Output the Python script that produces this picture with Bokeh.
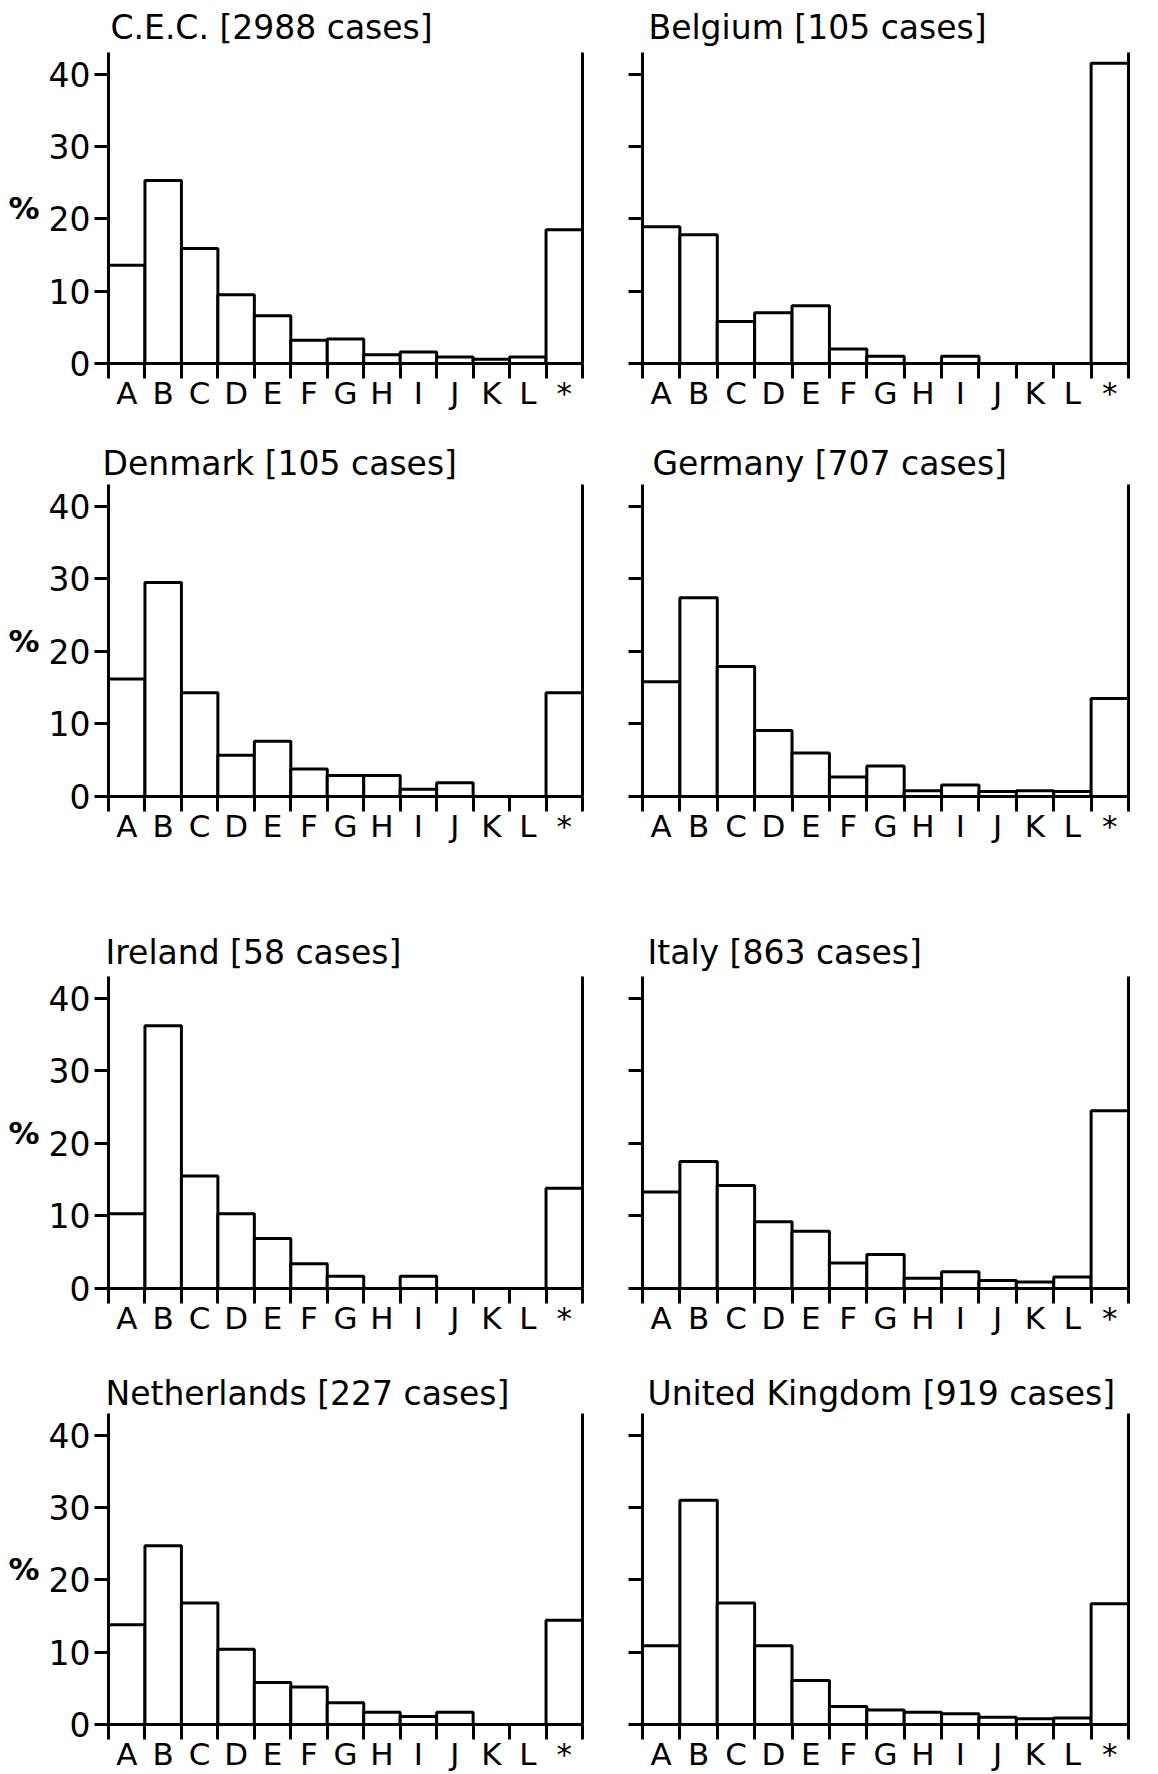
from bokeh.plotting import figure
from bokeh.models import Range1d, FixedTicker, LinearAxis
from bokeh.layouts import column, row
from bokeh.embed import file_html
from bokeh.resources import INLINE

categories = ["A", "B", "C", "D", "E", "F", "G", "H", "I", "J", "K", "L", "*"]

cec = [13.6, 25.3, 15.9, 9.5, 6.6, 3.2, 3.4, 1.2, 1.6, 0.9, 0.6, 0.9, 18.5]
belgium = [18.9, 17.8, 5.8, 7.0, 8.0, 2.0, 1.0, 0.0, 1.0, 0.0, 0.0, 0.0, 41.5]
denmark = [16.2, 29.5, 14.3, 5.7, 7.6, 3.8, 2.9, 2.9, 1.0, 1.9, 0.0, 0.0, 14.3]
germany = [15.8, 27.4, 17.9, 9.1, 6.0, 2.7, 4.2, 0.8, 1.6, 0.7, 0.8, 0.7, 13.5]
ireland = [10.3, 36.2, 15.5, 10.3, 6.9, 3.4, 1.7, 0.0, 1.7, 0.0, 0.0, 0.0, 13.8]
italy = [13.3, 17.5, 14.2, 9.2, 7.9, 3.5, 4.7, 1.4, 2.3, 1.1, 0.9, 1.6, 24.5]
netherlands = [13.8, 24.7, 16.8, 10.4, 5.8, 5.2, 3.0, 1.7, 1.1, 1.7, 0.0, 0.0, 14.4]
united_kingdom = [10.9, 31.0, 16.8, 10.9, 6.1, 2.5, 2.0, 1.7, 1.5, 1.0, 0.8, 0.9, 16.7]

titles = [
    "C.E.C. [2988 cases]", "Belgium [105 cases]",
    "Denmark [105 cases]", "Germany [707 cases]",
    "Ireland [58 cases]", "Italy [863 cases]",
    "Netherlands [227 cases]", "United Kingdom [919 cases]",
]
series = [cec, belgium, denmark, germany, ireland, italy, netherlands, united_kingdom]

y_ticks = [0, 10, 20, 30, 40]
y_max = 43

FONT = "DejaVu Sans"
LW = 3

# layout styling
row_heights = [420, 485, 435, 434]
row_top = [51, 64, 71, 73]
title_standoff = [11, 3, 10, 2]
title_offsets = [2, 6, -6, 10, -3, 5, -3, 5]


def make_panel(i):
    left_col = (i % 2 == 0)
    r = i // 2
    h = row_heights[r]
    top = row_top[r]
    frame_h = 312
    bottom = h - top - frame_h
    if left_col:
        w, bl, br = 600, 108, 18
    else:
        w, bl, br = 558, 42, 30
    n = len(categories)
    p = figure(width=w, height=h, output_backend="svg", toolbar_location=None,
               x_range=Range1d(0, n), y_range=Range1d(0, y_max),
               min_border_left=bl, min_border_right=br,
               min_border_top=top, min_border_bottom=bottom,
               x_axis_location=None, y_axis_location=None,
               background_fill_color="white", border_fill_color="white")
    p.outline_line_color = None
    p.grid.visible = False

    p.title.text = titles[i]
    p.title.text_font = FONT
    p.title.text_font_size = "33px"
    p.title.text_font_style = "normal"
    p.title.text_color = "black"
    p.title.align = "left"
    p.title.offset = title_offsets[i]
    p.title.standoff = title_standoff[r]

    centers = [k + 0.5 for k in range(n)]
    p.vbar(x=centers, top=series[i], width=1, bottom=0,
           fill_color="white", line_color="black", line_width=LW)

    # x axis: category letters at centers, boundary ticks as minor ticks
    xa = LinearAxis(ticker=FixedTicker(ticks=centers, minor_ticks=list(range(n + 1))))
    xa.major_label_overrides = {c: lab for c, lab in zip(centers, categories)}
    xa.major_tick_out = 0
    xa.major_tick_in = 0
    xa.minor_tick_out = 15
    xa.minor_tick_in = 0
    xa.minor_tick_line_width = LW
    xa.axis_line_width = LW
    xa.major_label_standoff = -4
    xa.major_label_text_font = FONT
    xa.major_label_text_font_size = "31px"
    xa.major_label_text_color = "black"
    p.add_layout(xa, "below")

    ya = LinearAxis(ticker=FixedTicker(ticks=y_ticks, minor_ticks=[]))
    ya.axis_line_width = LW
    ya.major_tick_out = 14
    ya.major_tick_in = 0
    ya.major_tick_line_width = LW
    ya.major_label_standoff = 4
    ya.major_label_text_font = FONT
    ya.major_label_text_font_size = "33px"
    ya.major_label_text_color = "black"
    if left_col:
        ya.axis_label = "%"
        ya.axis_label_orientation = "horizontal"
        ya.axis_label_text_font = FONT
        ya.axis_label_text_font_size = "31px"
        ya.axis_label_text_font_style = "bold"
        ya.axis_label_text_color = "black"
        ya.axis_label_standoff = 6
    else:
        ya.major_label_overrides = {t: "" for t in y_ticks}
        ya.major_label_standoff = 0
    p.add_layout(ya, "left")

    ra = LinearAxis(ticker=FixedTicker(ticks=[], minor_ticks=[]))
    ra.axis_line_width = LW
    ra.major_tick_out = 0
    ra.major_tick_in = 0
    p.add_layout(ra, "right")
    return p


panels = [make_panel(i) for i in range(8)]
layout = column(
    row(panels[0], panels[1]),
    row(panels[2], panels[3]),
    row(panels[4], panels[5]),
    row(panels[6], panels[7]),
)

open("out.html", "w").write(file_html(layout, INLINE))
